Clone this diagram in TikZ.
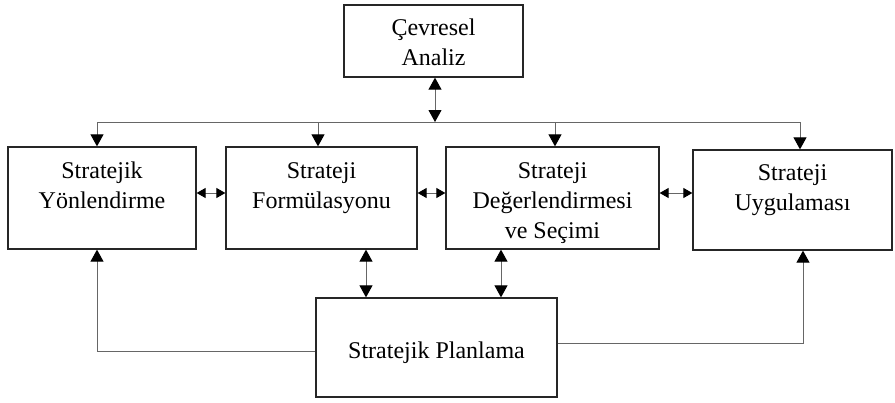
\documentclass[tikz,border=0pt]{standalone}
\usepackage{fontspec}
\setmainfont{Liberation Serif}
\usetikzlibrary{arrows.meta}
\begin{document}
\begin{tikzpicture}[x=1pt,y=-1pt,
  box/.style={draw=black!85,line width=1.3pt,rectangle,inner sep=0pt},
  txt/.style={align=center,inner sep=0pt,font=\fontsize{24}{30}\selectfont},
  conn/.style={draw=black!60,line width=1pt},
  arr/.style={conn,-{Triangle[color=black,width=13pt,length=12pt]}},
  dbl/.style={conn,{Triangle[color=black,width=13pt,length=12pt]}-{Triangle[color=black,width=13pt,length=12pt]}},
  sdbl/.style={conn,{Triangle[color=black,width=10pt,length=9pt]}-{Triangle[color=black,width=10pt,length=9pt]}}]
\useasboundingbox (0,0) rectangle (895,402);
\fill[white] (0,0) rectangle (895,402);
% boxes
\node[box,minimum width=179pt,minimum height=72pt] (ca) at (433.5,41) {};
\node[box,minimum width=188pt,minimum height=102pt] (b1) at (102,198) {};
\node[box,minimum width=191pt,minimum height=102pt] (b2) at (321.5,198) {};
\node[box,minimum width=213pt,minimum height=102pt] (b3) at (552.5,198) {};
\node[box,minimum width=199pt,minimum height=100pt] (b4) at (792.5,200) {};
\node[box,minimum width=241pt,minimum height=99pt] (sp) at (436.5,347.5) {};
% texts (base = baseline of last line)
\node[txt,anchor=base] (tca) at (433.5,65) {Çevresel\\Analiz};
\node[txt,anchor=base] (t1) at (102,208) {Stratejik\\Yönlendirme};
\node[txt,anchor=base] (t2) at (321.5,208) {Strateji\\Formülasyonu};
\node[txt,anchor=base] (t3) at (552.5,238) {Strateji\\Değerlendirmesi\\ve Seçimi};
\node[txt,anchor=base] (t4) at (792.5,210) {Strateji\\Uygulaması};
\node[txt,anchor=base] (tsp) at (436.5,358) {Stratejik Planlama};
% bus
\coordinate (busL) at (97,122);
\coordinate (busR) at (800,122);
\coordinate (busM) at (435,122);
\draw[conn] (busL) -- (busR);
\draw[dbl] (ca.south -| busM) -- (busM);
\draw[arr] (busL) -- (b1.north -| busL);
\draw[arr] (318,122) -- (b2.north -| 318,0);
\draw[arr] (555,122) -- (b3.north -| 555,0);
\draw[arr] (busR) -- (b4.north -| busR);
% horizontal double arrows
\draw[sdbl] (b1.east |- 0,193) -- (b2.west |- 0,193);
\draw[sdbl] (b2.east |- 0,193) -- (b3.west |- 0,193);
\draw[sdbl] (b3.east |- 0,193) -- (b4.west |- 0,193);
% vertical double arrows
\draw[dbl] (b2.south -| 366,0) -- (sp.north -| 366,0);
\draw[dbl] (b3.south -| 501,0) -- (sp.north -| 501,0);
% feedback
\draw[arr] (sp.west |- 0,351) -| (b1.south -| 97,0);
\draw[arr] (sp.east |- 0,343) -| (b4.south -| 803,0);
\end{tikzpicture}
\end{document}
